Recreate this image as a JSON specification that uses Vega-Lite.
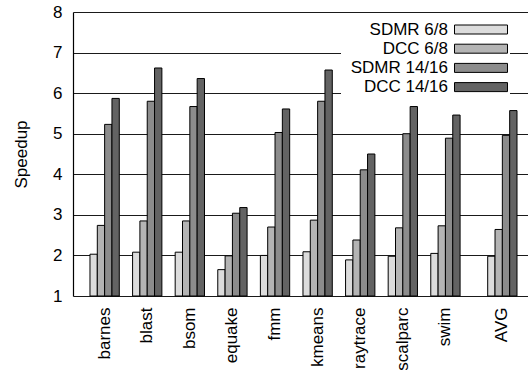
{
  "$schema": "https://vega.github.io/schema/vega-lite/v6.json",
  "width": 455,
  "height": 284,
  "autosize": {"type": "none"},
  "padding": {"left": 73, "top": 12, "right": 0, "bottom": 74},
  "background": "white",
  "config": {"font": "Liberation Sans", "view": {"stroke": null}},
  "data": {"values": [
    {"bench": "barnes", "series": "SDMR 6/8", "speedup": 2.03},
    {"bench": "barnes", "series": "DCC 6/8", "speedup": 2.74},
    {"bench": "barnes", "series": "SDMR 14/16", "speedup": 5.23},
    {"bench": "barnes", "series": "DCC 14/16", "speedup": 5.87},
    {"bench": "blast", "series": "SDMR 6/8", "speedup": 2.08},
    {"bench": "blast", "series": "DCC 6/8", "speedup": 2.85},
    {"bench": "blast", "series": "SDMR 14/16", "speedup": 5.80},
    {"bench": "blast", "series": "DCC 14/16", "speedup": 6.62},
    {"bench": "bsom", "series": "SDMR 6/8", "speedup": 2.08},
    {"bench": "bsom", "series": "DCC 6/8", "speedup": 2.85},
    {"bench": "bsom", "series": "SDMR 14/16", "speedup": 5.67},
    {"bench": "bsom", "series": "DCC 14/16", "speedup": 6.36},
    {"bench": "equake", "series": "SDMR 6/8", "speedup": 1.65},
    {"bench": "equake", "series": "DCC 6/8", "speedup": 1.99},
    {"bench": "equake", "series": "SDMR 14/16", "speedup": 3.04},
    {"bench": "equake", "series": "DCC 14/16", "speedup": 3.18},
    {"bench": "fmm", "series": "SDMR 6/8", "speedup": 2.00},
    {"bench": "fmm", "series": "DCC 6/8", "speedup": 2.70},
    {"bench": "fmm", "series": "SDMR 14/16", "speedup": 5.03},
    {"bench": "fmm", "series": "DCC 14/16", "speedup": 5.61},
    {"bench": "kmeans", "series": "SDMR 6/8", "speedup": 2.09},
    {"bench": "kmeans", "series": "DCC 6/8", "speedup": 2.87},
    {"bench": "kmeans", "series": "SDMR 14/16", "speedup": 5.80},
    {"bench": "kmeans", "series": "DCC 14/16", "speedup": 6.57},
    {"bench": "raytrace", "series": "SDMR 6/8", "speedup": 1.89},
    {"bench": "raytrace", "series": "DCC 6/8", "speedup": 2.38},
    {"bench": "raytrace", "series": "SDMR 14/16", "speedup": 4.11},
    {"bench": "raytrace", "series": "DCC 14/16", "speedup": 4.50},
    {"bench": "scalparc", "series": "SDMR 6/8", "speedup": 1.98},
    {"bench": "scalparc", "series": "DCC 6/8", "speedup": 2.68},
    {"bench": "scalparc", "series": "SDMR 14/16", "speedup": 5.00},
    {"bench": "scalparc", "series": "DCC 14/16", "speedup": 5.67},
    {"bench": "swim", "series": "SDMR 6/8", "speedup": 2.05},
    {"bench": "swim", "series": "DCC 6/8", "speedup": 2.73},
    {"bench": "swim", "series": "SDMR 14/16", "speedup": 4.89},
    {"bench": "swim", "series": "DCC 14/16", "speedup": 5.46},
    {"bench": "AVG", "series": "SDMR 6/8", "speedup": 1.98},
    {"bench": "AVG", "series": "DCC 6/8", "speedup": 2.64},
    {"bench": "AVG", "series": "SDMR 14/16", "speedup": 4.96},
    {"bench": "AVG", "series": "DCC 14/16", "speedup": 5.57}
  ]},
  "encoding": {
    "y": {
      "field": "speedup", "type": "quantitative",
      "scale": {"domain": [1, 8], "nice": false, "zero": false},
      "axis": {
        "values": [1, 2, 3, 4, 5, 6, 7, 8],
        "grid": true, "gridColor": "#1a1a1a", "gridWidth": 1.2,
        "ticks": false, "domainColor": "black", "domainWidth": 1.2,
        "labelFontSize": 17, "labelPadding": 11, "labelColor": "black",
        "title": "Speedup", "titleFontSize": 17, "titleFontWeight": "normal",
        "titleColor": "black", "titlePadding": 22
      }
    },
    "y2": {"datum": 1},
    "color": {
      "field": "series", "type": "nominal",
      "sort": ["SDMR 6/8", "DCC 6/8", "SDMR 14/16", "DCC 14/16"],
      "scale": {"domain": ["SDMR 6/8", "DCC 6/8", "SDMR 14/16", "DCC 14/16"], "range": ["#dcdcdc", "#b4b4b4", "#8c8c8c", "#636363"]},
      "legend": {
        "orient": "none", "legendX": 268, "legendY": 9, "title": null,
        "symbolType": "M-5.3,-0.9H5.3V0.9H-5.3Z", "symbolSize": 100,
        "symbolStrokeColor": "black", "symbolStrokeWidth": 1, "symbolOpacity": 1,
        "labelFontSize": 17, "labelColor": "black", "labelAlign": "right",
        "labelOffset": -41.5, "symbolOffset": 131.5,
        "rowPadding": 1.2, "padding": 0,
        "fillColor": "white"
      }
    }
  },
  "layer": [
    {
      "transform": [{"filter": "datum.bench != 'AVG'"}],
      "mark": {"type": "bar", "stroke": "black", "strokeWidth": 1},
      "encoding": {
        "x": {
          "field": "bench", "type": "nominal",
          "sort": ["barnes", "blast", "bsom", "equake", "fmm", "kmeans", "raytrace", "scalparc", "swim"],
          "scale": {"range": [0, 455], "paddingInner": 0.312, "paddingOuter": 0.9965, "align": 0.2},
          "axis": {"orient": "bottom", "title": null, "labelAngle": -90, "labelFontSize": 17, "labelPadding": 11, "ticks": false, "domain": false, "grid": false, "labelColor": "black"}
        },
        "xOffset": {
          "field": "series", "type": "nominal",
          "sort": ["SDMR 6/8", "DCC 6/8", "SDMR 14/16", "DCC 14/16"],
          "scale": {"paddingInner": 0, "paddingOuter": 0}
        }
      }
    },
    {
      "transform": [{"filter": "datum.bench == 'AVG'"}],
      "mark": {"type": "bar", "stroke": "black", "strokeWidth": 1},
      "encoding": {
        "x": {
          "field": "bench", "type": "nominal",
          "scale": {"range": [414.7, 444], "paddingInner": 0, "paddingOuter": 0},
          "axis": {"orient": "bottom", "title": null, "labelAngle": -90, "labelFontSize": 17, "labelPadding": 11, "ticks": false, "domain": false, "grid": false, "labelColor": "black"}
        },
        "xOffset": {
          "field": "series", "type": "nominal",
          "sort": ["SDMR 6/8", "DCC 6/8", "SDMR 14/16", "DCC 14/16"],
          "scale": {"paddingInner": 0, "paddingOuter": 0}
        }
      }
    }
  ],
  "resolve": {"scale": {"x": "independent", "xOffset": "independent"}, "axis": {"x": "independent"}}
}
